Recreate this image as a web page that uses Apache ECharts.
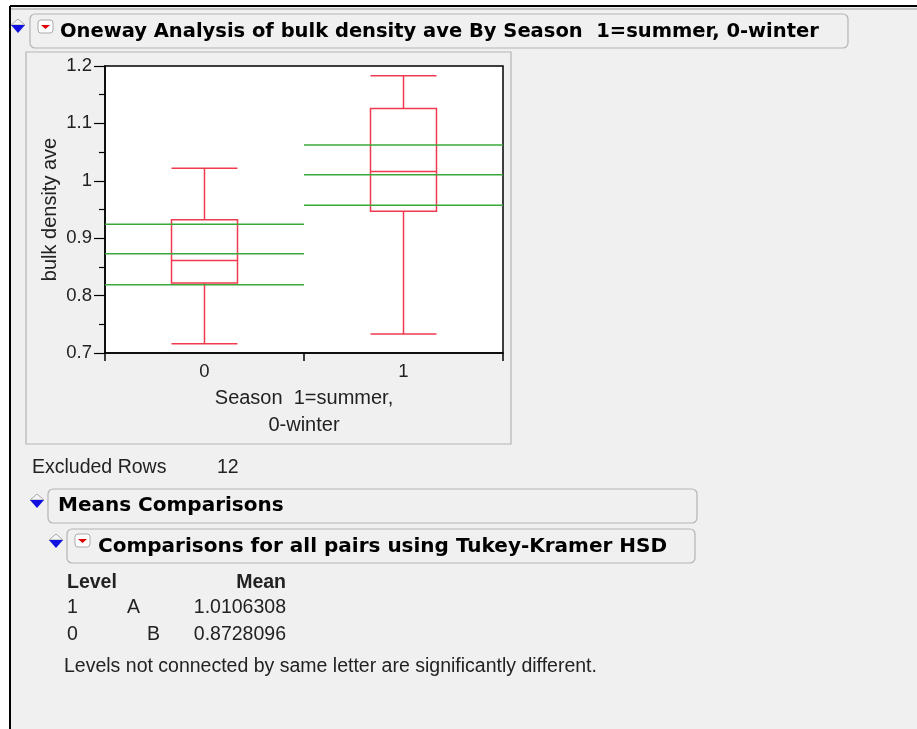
<!DOCTYPE html>
<html>
<head>
<meta charset="utf-8">
<script src="https://cdn.jsdelivr.net/npm/echarts@6/dist/echarts.min.js"></script>
<style>
  html, body { margin: 0; padding: 0; background: #fff; }
  #main { width: 917px; height: 729px; }
</style>
</head>
<body>
<div id="main"></div>
<script>
// groups on the x axis
var seasons = ['0', '1'];
// box plot: [lower whisker, Q1, median, Q3, upper whisker]
var boxSeason0 = [0.716, 0.822, 0.861, 0.932, 1.022];
var boxSeason1 = [0.733, 0.947, 1.016, 1.126, 1.183];
// mean diamond lines (upper 95%, mean, lower 95%)
var meanValues = [0.8728096, 1.0106308];
var upper95 = [0.9245, 1.0625];
var lower95 = [0.819, 0.9575];
// y ticks
var yMin = 0.7, yMax = 1.2, yStep = 0.1;
// comparison table
var tableLevels = ['1', '0'];
var tableLetters = ['A', 'B'];
var tableMeans = ['1.0106308', '0.8728096'];
var excludedRows = 12;

var red = '#ee3b50';
var green = '#3aa83a';
var txt = '#222';
var bodyFont = '"Liberation Sans", Arial, sans-serif';
var headFont = '"DejaVu Sans", Verdana, sans-serif';

var myChart = echarts.init(document.getElementById('main'));

function blueArrow(x, y) {
    return [
        { type: 'polygon', shape: { points: [[x, y], [x + 7, y - 6], [x + 14, y]] },
          style: { fill: '#f4f4f4', stroke: '#aaa', lineWidth: 1 } },
        { type: 'polygon', shape: { points: [[x, y], [x + 14, y], [x + 7, y + 8]] },
          style: { fill: '#1010e0' } }
    ];
}
function redMenu(x, y) {
    return [
        { type: 'rect', shape: { x: x, y: y, width: 15, height: 13, r: 3 },
          style: { fill: '#fff', stroke: '#aaa', lineWidth: 1 } },
        { type: 'polygon', shape: { points: [[x + 3, y + 5], [x + 12, y + 5], [x + 7.5, y + 9]] },
          style: { fill: '#e00000' } }
    ];
}
function headerBox(x, y, w, h) {
    return { type: 'rect', shape: { x: x, y: y, width: w, height: h, r: 5 },
             style: { fill: '#f0f0f0', stroke: '#b4b4b4', lineWidth: 1.2 } };
}
function label(x, y, text, opts) {
    opts = opts || {};
    return { type: 'text', x: x, y: y, z: 5,
             style: { text: text, fill: opts.color || txt, font: (opts.bold ? 'bold ' : '') + (opts.size || 19.5) + 'px ' + (opts.family || bodyFont),
                      textAlign: opts.align || 'left', textVerticalAlign: 'middle' } };
}

var graphics = [
    { type: 'rect', shape: { x: 10, y: 6, width: 907, height: 723 }, style: { fill: '#f0f0f0' }, z: -10 },
    { type: 'line', shape: { x1: 10, y1: 6, x2: 917, y2: 6 }, style: { stroke: '#000', lineWidth: 2 } },
    { type: 'line', shape: { x1: 11, y1: 9, x2: 917, y2: 9 }, style: { stroke: '#999', lineWidth: 1 } },
    { type: 'line', shape: { x1: 10, y1: 6, x2: 10, y2: 729 }, style: { stroke: '#000', lineWidth: 2 } },
    headerBox(30, 14, 818, 34),
    { type: 'rect', shape: { x: 26, y: 52, width: 485, height: 392 }, style: { fill: '#f0f0f0', stroke: '#b4b4b4', lineWidth: 1.2 }, z: -5 },
    headerBox(48, 489, 649, 34),
    headerBox(67, 529, 628, 34),
    label(60, 32, 'Oneway Analysis of bulk density ave By Season  1=summer, 0-winter', { bold: true, size: 19.5, family: headFont, color: '#000' }),
    label(58, 506, 'Means Comparisons', { bold: true, size: 20, family: headFont, color: '#000' }),
    label(98, 547, 'Comparisons for all pairs using Tukey-Kramer HSD', { bold: true, size: 20, family: headFont, color: '#000' }),
    label(32, 468, 'Excluded Rows'),
    label(217, 468, String(excludedRows)),
    label(67, 583, 'Level', { bold: true }),
    label(286, 583, 'Mean', { bold: true, align: 'right' }),
    label(64, 667, 'Levels not connected by same letter are significantly different.')
];
graphics = graphics.concat(blueArrow(11, 25), redMenu(38, 20), blueArrow(30, 500), blueArrow(49, 540), redMenu(75, 534));
tableLevels.forEach(function (lv, i) {
    var y = 608 + i * 27;
    graphics.push(label(67, y, lv));
    graphics.push(label(i === 0 ? 127 : 147, y, tableLetters[i]));
    graphics.push(label(286, y, tableMeans[i], { align: 'right' }));
});

var option = {
    backgroundColor: '#fff',
    animation: false,
    graphic: { elements: graphics },
    grid: { left: 105, top: 66, width: 398, height: 287, show: true, backgroundColor: '#fff', borderColor: '#000', borderWidth: 1.5 },
    xAxis: {
        type: 'category',
        data: seasons,
        boundaryGap: true,
        name: 'Season  1=summer,\n0-winter',
        nameLocation: 'middle',
        nameGap: 32,
        nameTextStyle: { color: txt, fontSize: 20, fontFamily: bodyFont, lineHeight: 27 },
        axisLine: { lineStyle: { color: '#000', width: 1.5 } },
        axisTick: { show: true, interval: 0, length: 8, lineStyle: { color: '#000', width: 1.5 } },
        axisLabel: { color: txt, fontSize: 18.5, fontFamily: bodyFont, margin: 9 },
        splitLine: { show: false }
    },
    yAxis: {
        type: 'value',
        min: yMin, max: yMax, interval: yStep,
        name: 'bulk density ave',
        nameLocation: 'middle',
        nameRotate: 90,
        nameGap: 45,
        nameTextStyle: { color: txt, fontSize: 20, fontFamily: bodyFont },
        axisLine: { show: true, lineStyle: { color: '#000', width: 1.5 } },
        axisTick: { show: true, length: 11, lineStyle: { color: '#000', width: 1.2 } },
        minorTick: { show: true, splitNumber: 2, length: 6, lineStyle: { color: '#000', width: 1.2 } },
        axisLabel: { color: txt, fontSize: 18.5, fontFamily: bodyFont, margin: 13,
                     formatter: function (v) { return String(+v.toFixed(2)); } },
        splitLine: { show: false }
    },
    series: [
        {
            type: 'boxplot',
            data: [boxSeason0, boxSeason1],
            boxWidth: [66, 66],
            itemStyle: { color: 'rgba(0,0,0,0)', borderColor: red, borderWidth: 1.5 },
            z: 3
        },
        {
            type: 'custom',
            z: 4,
            data: seasons.map(function (s, i) { return [i, upper95[i], meanValues[i], lower95[i]]; }),
            renderItem: function (params, api) {
                var idx = api.value(0);
                var band = api.size([1, 0])[0];
                var lines = [1, 2, 3].map(function (d) {
                    var p = api.coord([idx, api.value(d)]);
                    return { type: 'line', shape: { x1: p[0] - band / 2, y1: p[1], x2: p[0] + band / 2, y2: p[1] },
                             style: { stroke: green, lineWidth: 1.5 } };
                });
                return { type: 'group', children: lines };
            }
        }
    ]
};

myChart.setOption(option);
</script>
</body>
</html>
